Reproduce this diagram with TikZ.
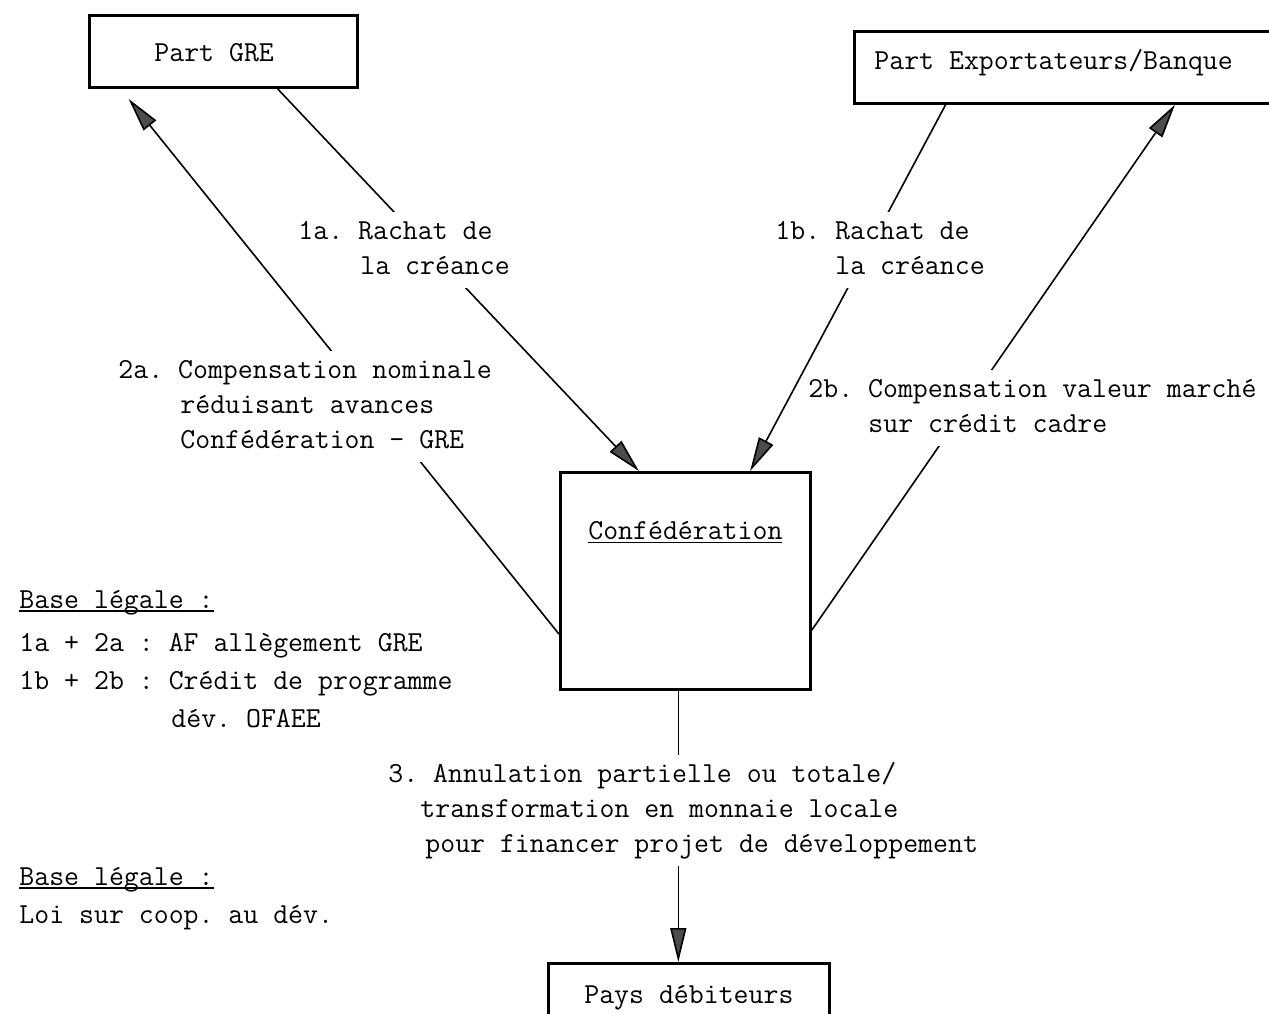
\documentclass[tikz,border=0pt]{standalone}
\usepackage{fontspec}
\usetikzlibrary{arrows.meta,calc}
\newcommand\ulx[1]{\setbox0=\hbox{#1}\rlap{\rule[-2pt]{\wd0}{0.8pt}}\box0}
\newcommand\stk[1]{\begin{tabular}[t]{@{}l@{}}#1\end{tabular}}
\frenchspacing
\begin{document}
\begin{tikzpicture}[x=0.5pt,y=-0.5pt,
  every node/.style={font=\ttfamily\fontsize{14.5pt}{17.5pt}\selectfont},
  box/.style={draw, line width=1.4pt, inner sep=0pt},
  lbl/.style={anchor=base west, inner xsep=0pt, inner ysep=1.5pt, fill=white},
  txt/.style={anchor=base west, inner sep=0pt},
  conn/.style={line width=0.8pt},
  arr/.style={conn, -{Triangle[length=17pt,width=8pt,fill=black!70]}}]
\useasboundingbox (0,0) rectangle (1269,1013);

% boxes
\node[box, anchor=north west, inner xsep=32.5pt, text height=23pt, text depth=13pt] (gre) at (88,14) {\makebox[69pt][l]{Part GRE}};
\node[box, anchor=north west, inner xsep=10pt, text height=19pt, text depth=17pt] (exp) at (853,30) {\makebox[198.5pt][l]{Part Exportateurs/Banque}};
\node[box, anchor=north west, minimum width=125pt, text height=33.5pt, text depth=75pt] (conf) at (559,471) {\ulx{Confédération}};
\node[box, anchor=north west, minimum width=140.5pt, text height=20pt, text depth=30pt] (pays) at (547,962) {Pays débiteurs};

% connector end points
\coordinate (g1) at ($(gre.south west)!0.70!(gre.south east)$);
\coordinate (g2) at ($(gre.south west)!0.12!(gre.south east)$);
\coordinate (c1) at ($(conf.north west)!0.316!(conf.north east)$);
\coordinate (c2) at ($(conf.north west)!0.756!(conf.north east)$);
\coordinate (cw) at ($(conf.north west)!0.742!(conf.south west)$);
\coordinate (ce) at ($(conf.north east)!0.724!(conf.south east)$);
\coordinate (cs) at ($(conf.south west)!0.472!(conf.south east)$);
\coordinate (e1) at ($(exp.south west)!0.2105!(exp.south east)$);
\coordinate (e2) at ($(exp.south west)!0.732!(exp.south east)$);

% connectors
\draw[arr] (g1) -- (c1);
\draw[arr, shorten >=6.5pt] (cw) -- (g2);
\draw[arr] (e1) -- (c2);
\draw[arr] (ce) -- (e2);
\draw[arr] (cs) -- (cs |- pays.north);

% labels
\node[lbl] (l1a) at (298,239) {\stk{1a. Rachat de\\\hspace*{31pt}la créance}};
\node[lbl] (l1b) at (775,239) {\stk{1b. Rachat de\\\hspace*{30pt}la créance}};
\node[lbl] (l2a) at (118,378) {\stk{2a. Compensation nominale\\\hspace*{31pt}réduisant avances\\\hspace*{31pt}Confédération - GRE}};
\node[lbl] (l2b) at (808,397) {\stk{2b. Compensation valeur marché\\\hspace*{30pt}sur crédit cadre}};
\node[lbl] (l3) at (388,782) {\stk{3. Annulation partielle ou totale/\\\hspace*{16pt}transformation en monnaie locale\\\hspace*{18.5pt}pour financer projet de développement}};

% legal bases
\node[txt] (bl1) at (19,608) {\stk{\ulx{Base légale :}\\[4pt]1a + 2a : AF allègement GRE\\[1.5pt]1b + 2b : Crédit de programme\\[1.5pt]\hspace*{76pt}dév. OFAEE}};
\node[txt] (bl2) at (19,885) {\stk{\ulx{Base légale :}\\[1.5pt]Loi sur coop. au dév.}};
\end{tikzpicture}
\end{document}
